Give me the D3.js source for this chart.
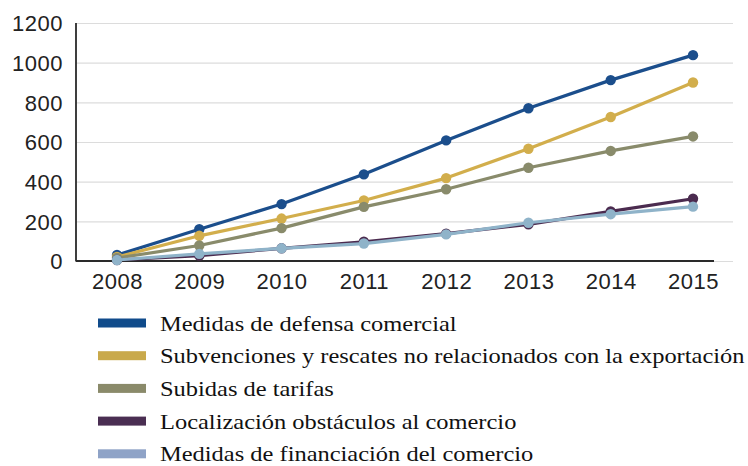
<!DOCTYPE html>
<html>
<head>
<meta charset="utf-8">
<script src="https://cdn.jsdelivr.net/npm/d3@7"></script>
<style>
  body { margin: 0; background: #fff; }
  svg { display: block; }
  .tick text { font-family: "Liberation Sans", Arial, sans-serif; fill: #222; letter-spacing: 0.5px; }
  .legend text { font-family: "Liberation Serif", "Times New Roman", serif; fill: #111; }
</style>
</head>
<body>
<svg id="chart" width="748" height="466"></svg>
<script>
var years = [2008, 2009, 2010, 2011, 2012, 2013, 2014, 2015];
var yTicks = [0, 200, 400, 600, 800, 1000, 1200];

var defensa = [30, 160, 287, 437, 608, 770, 912, 1038];
var subvenciones = [20, 127, 214, 305, 418, 566, 726, 900];
var tarifas = [15, 78, 166, 273, 362, 470, 555, 628];
var localizacion = [5, 27, 64, 97, 138, 185, 250, 314];
var financiacion = [5, 36, 64, 88, 134, 193, 236, 274];

var seriesNames = [
  "Medidas de defensa comercial",
  "Subvenciones y rescates no relacionados con la exportación",
  "Subidas de tarifas",
  "Localización obstáculos al comercio",
  "Medidas de financiación del comercio"
];
var lineColors = ["#1b4e8c", "#d2ae4c", "#898b6b", "#4b2b4f", "#8fb3c9"];
var swatchColors = ["#104b8b", "#c9a94b", "#8a8a6a", "#4a2e52", "#8fa3c7"];

var series = [defensa, subvenciones, tarifas, localizacion, financiacion].map(function(v, i) {
  return {name: seriesNames[i], values: v, line: lineColors[i], swatch: swatchColors[i]};
});

var plot = {l: 76, r: 733, t: 23, b: 261, axisEnd: 714};
var svg = d3.select("#chart");

var x = d3.scalePoint().domain(years).range([117, 693]);
var y = d3.scaleLinear().domain([0, 1200]).range([plot.b, plot.t]);

// gridlines + y labels
var yAxis = svg.append("g")
  .attr("transform", "translate(" + plot.l + ",0)")
  .call(d3.axisLeft(y).tickValues(yTicks).tickSize(-(plot.r - plot.l)).tickPadding(13).tickFormat(d3.format("d")));
yAxis.select(".domain").remove();
yAxis.selectAll(".tick line").attr("stroke", "#dcdcdc").attr("stroke-width", 1.2);
yAxis.selectAll(".tick text").style("font-size", "22px").attr("dy", "0.36em");

// x labels
var xAxis = svg.append("g")
  .attr("transform", "translate(0," + plot.b + ")")
  .call(d3.axisBottom(x).tickSize(0).tickPadding(12));
xAxis.select(".domain").remove();
xAxis.selectAll(".tick text").style("font-size", "22px");

// axis lines
svg.append("line")
  .attr("x1", plot.l).attr("x2", plot.l)
  .attr("y1", plot.t).attr("y2", plot.b + 0.5)
  .attr("stroke", "#2a2a2a").attr("stroke-width", 1.8);
svg.append("line")
  .attr("x1", plot.l).attr("x2", plot.axisEnd)
  .attr("y1", plot.b).attr("y2", plot.b)
  .attr("stroke", "#2a2a2a").attr("stroke-width", 1.8);

var line = d3.line()
  .x(function(d, i) { return x(years[i]); })
  .y(function(d) { return y(d); });

var groups = svg.selectAll(".series")
  .data(series)
  .enter().append("g")
  .attr("class", "series");

groups.append("path")
  .attr("d", function(d) { return line(d.values); })
  .attr("fill", "none")
  .attr("stroke", function(d) { return d.line; })
  .attr("stroke-width", 3.2)
  .attr("stroke-linejoin", "round");

groups.selectAll("circle")
  .data(function(d) { return d.values.map(function(v, i) { return {v: v, i: i, c: d.line}; }); })
  .enter().append("circle")
  .attr("cx", function(d) { return x(years[d.i]); })
  .attr("cy", function(d) { return y(d.v); })
  .attr("r", 5.2)
  .attr("fill", function(d) { return d.c; });

// legend
var legend = svg.append("g").attr("class", "legend").attr("transform", "translate(98,323)");
var item = legend.selectAll("g")
  .data(series)
  .enter().append("g")
  .attr("transform", function(d, i) { return "translate(0," + (i * 32.7) + ")"; });

item.append("rect")
  .attr("x", 0).attr("y", -4.5)
  .attr("width", 48).attr("height", 9)
  .attr("fill", function(d) { return d.swatch; });

// the source glyphs are a bit wider than Times, so stretch horizontally
item.append("text")
  .attr("transform", "translate(62,7.5) scale(1.165,1)")
  .style("font-size", "21px")
  .text(function(d) { return d.name; });
</script>
</body>
</html>
